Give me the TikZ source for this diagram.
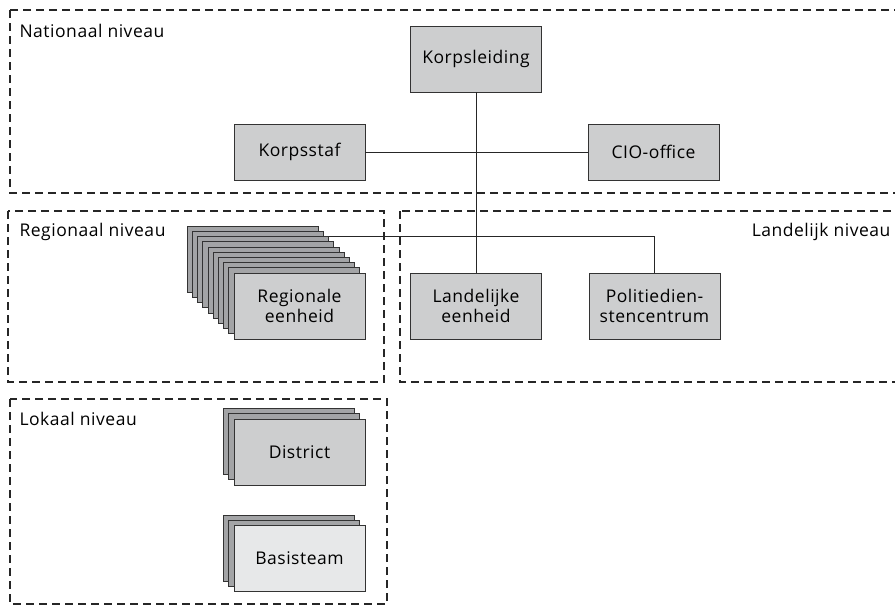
\documentclass[tikz,border=0pt]{standalone}
\usepackage{fontspec}
\setmainfont[LetterSpace=3]{Open Sans}
\definecolor{boxgray}{HTML}{CDCECF}
\definecolor{backgray}{HTML}{A3A4A6}
\definecolor{basisgray}{HTML}{E7E8E9}
\begin{document}
\begin{tikzpicture}[x=1pt,y=-1pt,font=\fontsize{17.5}{20}\selectfont,
  box/.style={draw=black!80,line width=0.9pt,fill=boxgray,minimum width=131pt,minimum height=66pt,align=center,inner sep=0pt},
  level/.style={draw=black!85,line width=1.2pt,dash pattern=on 8pt off 5pt},
  link/.style={draw=black!85,line width=0.9pt}]
\useasboundingbox (0,0) rectangle (895,606);
\clip (0,0) rectangle (895,606);
% niveaus
\draw[level] (10,10) rectangle (910,193);
\draw[level] (8,211) rectangle (384,382);
\draw[level] (400,211) rectangle (910,382);
\draw[level] (10,399) rectangle (387,604);
\node[anchor=base west] (nat) at (16,37) {Nationaal niveau};
\node[anchor=base west] (reg) at (16,236) {Regionaal niveau};
\node[anchor=base east] (lan) at (894,236) {Landelijk niveau};
\node[anchor=base west] (lok) at (16,425) {Lokaal niveau};
% nationaal
\node[box] (leiding) at (476,59) {Korpsleiding};
\node[box,minimum height=56pt] (staf) at (299.5,152) {Korpsstaf};
\node[box,minimum height=56pt] (cio) at (653.5,152) {CIO-office};
% landelijk
\node[box] (landelijk) at (476,306) {Landelijke\\eenheid};
\node[box] (pdc) at (654.5,306) {Politiedien-\\stencentrum};
% regionaal
\foreach \i in {0,...,8}
  \node[box,fill=backgray] (regio\i) at ({252.7+5.2*\i},{259.2+5.2*\i}) {};
\node[box] (regio9) at (299.5,306) {Regionale\\eenheid};
% lokaal
\foreach \i in {0,1}
  \node[box,fill=backgray] (district\i) at ({289.1+5.2*\i},{441.6+5.2*\i}) {};
\node[box] (district2) at (299.5,452) {District};
\foreach \i in {0,1}
  \node[box,fill=backgray] (basis\i) at ({289.1+5.2*\i},{548.1+5.2*\i}) {};
\node[box,fill=basisgray] (basis2) at (299.5,558.5) {Basisteam};
% lijnen
\draw[link] (staf) -- (cio);
\draw[link] (leiding) -- (landelijk);
\draw[link] (regio2.north east) -| (pdc.north);
\end{tikzpicture}
\end{document}
